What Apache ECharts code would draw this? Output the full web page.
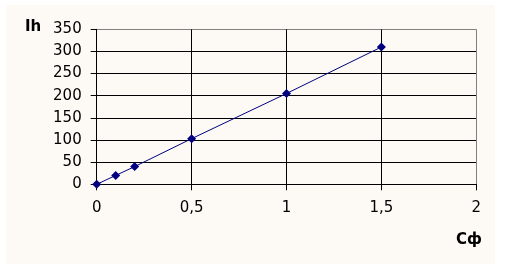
<!DOCTYPE html>
<html><head><meta charset="utf-8">
<script src="https://cdn.jsdelivr.net/npm/echarts@6/dist/echarts.min.js"></script>
<style>html,body{margin:0;padding:0;background:#fff}#c{width:508px;height:268px}</style>
</head><body><div id="c"></div>
<script>
const xValues = [0, 0.1, 0.2, 0.5, 1, 1.5];
const yValues = [0, 20, 40, 103, 205, 310];
const xTitle = 'Сф';
const yTitle = 'Ih';

const chart = echarts.init(document.getElementById('c'), null, {renderer: 'canvas'});
const font = 'DejaVu Sans, Verdana, sans-serif';
const blk = '#000000', gr = '#808080';
chart.setOption({
  animation: false,
  backgroundColor: '#ffffff',
  graphic: [
    {type: 'rect', z: -10, shape: {x: 6, y: 5, width: 489, height: 259}, style: {fill: '#FDF9F5'}},
    {type: 'text', left: 25, top: 20, style: {text: yTitle, font: 'bold 15px ' + font, fill: '#000'}},
    {type: 'text', left: 456, top: 233, style: {text: xTitle, font: 'bold 15px ' + font, fill: '#000'}}
  ],
  grid: {left: 96.7, right: 31.7, top: 29.3, bottom: 83.7, containLabel: false},
  xAxis: {
    type: 'value', min: 0, max: 2, interval: 0.5,
    axisLine: {show: true, onZero: false, lineStyle: {color: blk, width: 1}},
    axisTick: {show: true, length: 6, lineStyle: {color: blk}},
    axisLabel: {margin: 16, color: '#000', fontSize: 15, fontFamily: font,
      formatter: v => String(v).replace('.', ',')},
    splitLine: {show: true, lineStyle: {color: [blk, blk, blk, blk, gr], width: 1}}
  },
  yAxis: {
    type: 'value', min: 0, max: 350, interval: 50,
    axisLine: {show: true, lineStyle: {color: blk, width: 1}},
    axisTick: {show: true, length: 6, lineStyle: {color: blk}},
    axisLabel: {margin: 15, color: '#000', fontSize: 15, fontFamily: font},
    splitLine: {show: true, lineStyle: {color: [blk, blk, blk, blk, blk, blk, blk, gr], width: 1}}
  },
  series: [{
    type: 'line',
    data: xValues.map((x, i) => [x, yValues[i]]),
    symbol: 'diamond', symbolSize: 9,
    itemStyle: {color: '#000080'},
    lineStyle: {color: '#000080', width: 1}
  }]
});
</script></body></html>
